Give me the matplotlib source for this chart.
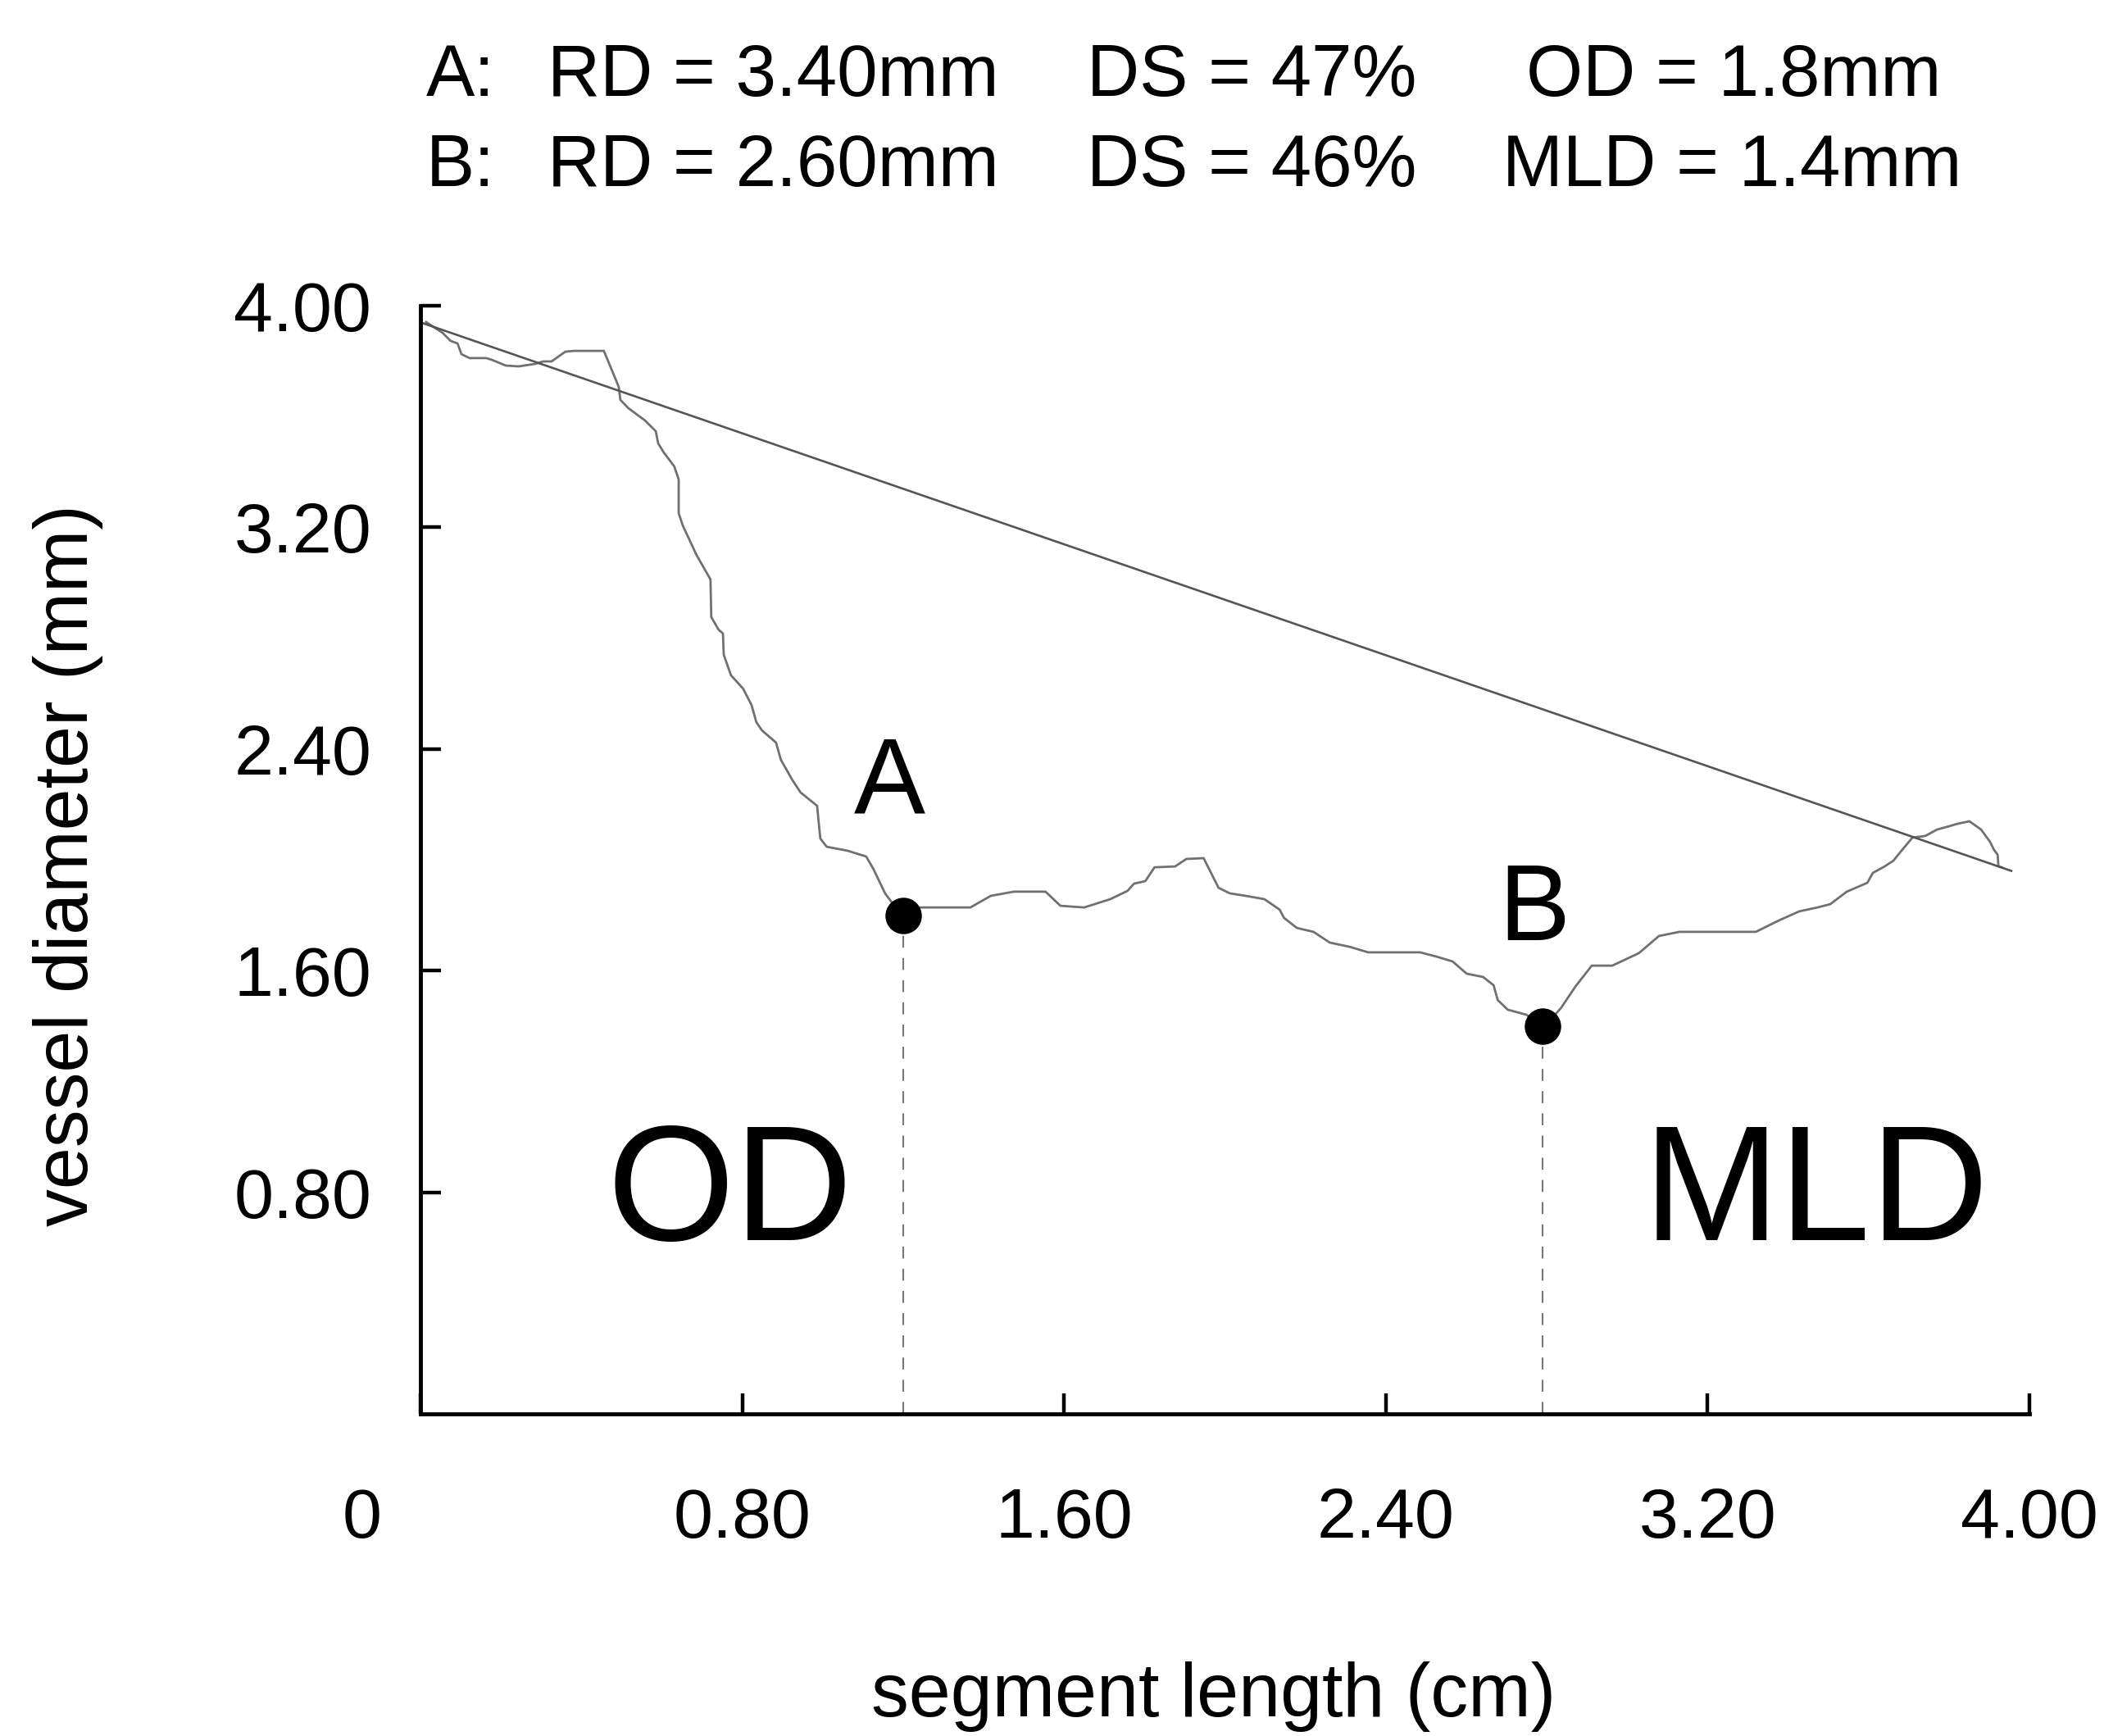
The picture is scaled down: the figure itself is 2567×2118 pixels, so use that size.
import matplotlib
matplotlib.use("Agg")
import matplotlib.pyplot as plt
from matplotlib.transforms import ScaledTranslation

plt.rcParams['font.family'] = ['Liberation Sans', 'DejaVu Sans']

# measured contour: segment length (cm) vs vessel diameter (mm)
length_cm = [0.014, 0.055, 0.075, 0.092, 0.102, 0.122, 0.163, 0.177, 0.212, 0.244,
             0.285, 0.305, 0.326, 0.360, 0.381, 0.456, 0.493, 0.497, 0.517, 0.558,
             0.585, 0.591, 0.605, 0.631, 0.642, 0.642, 0.652, 0.686, 0.721, 0.723,
             0.741, 0.752, 0.754, 0.772, 0.802, 0.823, 0.835, 0.849, 0.884, 0.896,
             0.925, 0.945, 0.986, 0.994, 1.010, 1.061, 1.108, 1.126, 1.155, 1.196,
             1.242, 1.367, 1.418, 1.475, 1.554, 1.591, 1.650, 1.715, 1.758, 1.774,
             1.802, 1.825, 1.876, 1.904, 1.947, 1.984, 2.012, 2.051, 2.098, 2.136,
             2.147, 2.179, 2.220, 2.261, 2.310, 2.356, 2.485, 2.525, 2.566, 2.601,
             2.642, 2.668, 2.678, 2.703, 2.749, 2.794, 2.835, 2.872, 2.912, 2.963,
             3.029, 3.079, 3.130, 3.320, 3.377, 3.428, 3.473, 3.505, 3.546, 3.597,
             3.611, 3.640, 3.662, 3.682, 3.709, 3.741, 3.770, 3.800, 3.821, 3.851,
             3.880, 3.902, 3.912, 3.921, 3.923, 3.931]
diameter_mm = [3.941, 3.902, 3.873, 3.864, 3.825, 3.811, 3.811, 3.805, 3.784, 3.781,
               3.790, 3.799, 3.799, 3.834, 3.837, 3.837, 3.707, 3.660, 3.630, 3.586,
               3.547, 3.503, 3.470, 3.420, 3.373, 3.251, 3.207, 3.101, 3.012, 2.876,
               2.831, 2.817, 2.740, 2.666, 2.618, 2.559, 2.497, 2.467, 2.423, 2.361,
               2.287, 2.243, 2.195, 2.077, 2.047, 2.033, 2.012, 1.967, 1.879, 1.799,
               1.828, 1.828, 1.870, 1.885, 1.885, 1.834, 1.828, 1.858, 1.888, 1.914,
               1.923, 1.973, 1.976, 2.003, 2.006, 1.899, 1.879, 1.870, 1.858, 1.820,
               1.790, 1.754, 1.740, 1.701, 1.686, 1.666, 1.666, 1.651, 1.633, 1.589,
               1.577, 1.547, 1.494, 1.459, 1.441, 1.399, 1.464, 1.544, 1.618, 1.618,
               1.663, 1.725, 1.740, 1.740, 1.781, 1.814, 1.828, 1.840, 1.885, 1.917,
               1.953, 1.976, 1.997, 2.033, 2.080, 2.086, 2.109, 2.121, 2.130, 2.139,
               2.109, 2.065, 2.036, 2.018, 1.976, 1.973]

# interpolated reference diameter
ref_length = [0.0, 3.955]
ref_diameter = [3.94, 1.96]

# obstruction (A) and minimal lumen (B) points
point_names = ['A', 'B']
point_x = [1.20, 2.79]
point_y = [1.80, 1.40]

region_names = ['OD', 'MLD']
region_x = [0.77, 3.47]

x_ticks = [0, 0.8, 1.6, 2.4, 3.2, 4.0]
x_tick_labels = ['0', '0.80', '1.60', '2.40', '3.20', '4.00']
y_ticks = [0.8, 1.6, 2.4, 3.2, 4.0]
y_tick_labels = ['0.80', '1.60', '2.40', '3.20', '4.00']

summary_a = ['A:', 'RD = 3.40mm', 'DS = 47%', 'OD = 1.8mm']
summary_b = ['B:', 'RD = 2.60mm', 'DS = 46%', 'MLD = 1.4mm']

W, H = 2567, 2118
fig = plt.figure(figsize=(W / 100, H / 100), dpi=100)
ax = fig.add_axes([513 / W, 1 - 1725 / H, (2476 - 513) / W, (1725 - 373) / H])

ax.plot(length_cm, diameter_mm, color='#707070', lw=2.0, solid_joinstyle='round')
ax.plot(ref_length, ref_diameter, color='#555555', lw=1.9)

for x, y in zip(point_x, point_y):
    ax.plot([x, x], [0, y], color='#777777', lw=1.5, dashes=(7, 6))
ax.plot(point_x, point_y, 'o', color='black', ms=31, zorder=5)

ax.text(1.167, 2.166, point_names[0], fontsize=94, ha='center', va='baseline')
ax.text(2.768, 1.710, point_names[1], fontsize=94, ha='center', va='baseline')
for name, x in zip(region_names, region_x):
    ax.text(x, 0.627, name, fontsize=144, ha='center', va='baseline')

ax.set_xlim(0, 4.0)
ax.set_ylim(0, 4.0)
ax.set_xticks(x_ticks, x_tick_labels)
ax.set_yticks(y_ticks, y_tick_labels)
for side in ['top', 'right']:
    ax.spines[side].set_visible(False)
for side in ['left', 'bottom']:
    ax.spines[side].set_linewidth(3.5)
ax.tick_params(direction='in', length=18, width=3.2, labelsize=62)
ax.tick_params(axis='y', pad=43)
ax.tick_params(axis='x', pad=64)

# the "0" sits left of the origin
zero_label = ax.xaxis.get_majorticklabels()[0]
zero_label.set_transform(zero_label.get_transform() + ScaledTranslation(-0.71, 0, fig.dpi_scale_trans))

fig.text(83 / W, 1 - 1056 / H, 'vessel diameter (mm)', rotation=90,
         ha='center', va='center', fontsize=66)
fig.text(1481 / W, 1 - 2094 / H, 'segment length (cm)', ha='center', va='baseline', fontsize=66)

cols_a = [520, 668, 1326, 1862]
cols_b = [520, 668, 1326, 1833]
for txt, cx in zip(summary_a, cols_a):
    fig.text(cx / W, 1 - 117 / H, txt, ha='left', va='baseline', fontsize=64)
for txt, cx in zip(summary_b, cols_b):
    fig.text(cx / W, 1 - 227 / H, txt, ha='left', va='baseline', fontsize=64)

fig.savefig('out.png', dpi=100, facecolor='white')
